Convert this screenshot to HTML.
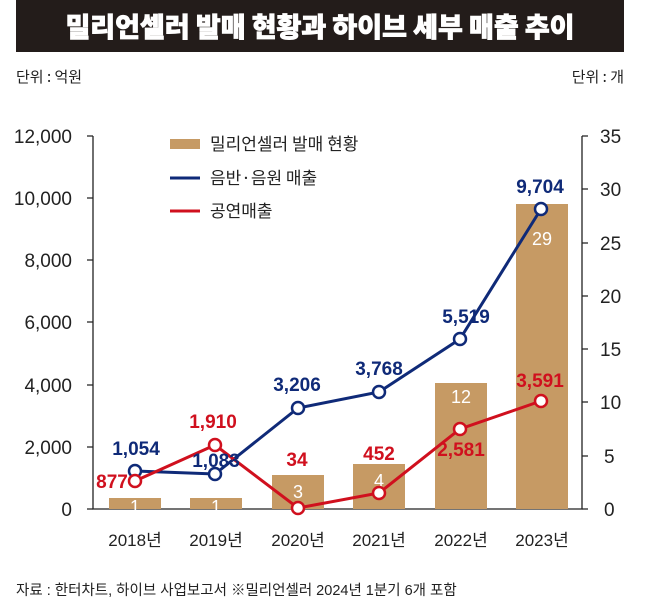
<!DOCTYPE html>
<html><head><meta charset="utf-8"><style>
body{margin:0;background:#fff;width:658px;height:611px;overflow:hidden}
svg{display:block;font-family:"Liberation Sans","Noto Sans CJK KR",sans-serif}
</style></head><body>
<svg width="658" height="611" viewBox="0 0 658 611">
<rect x="16" y="0" width="608" height="52" fill="#231c1a"/>
<text x="320" y="37" fill="#fff" font-size="27" font-weight="900" text-anchor="middle" font-family="'Noto Sans CJK KR',sans-serif" stroke="#fff" stroke-width="0.8">밀리언셀러 발매 현황과 하이브 세부 매출 추이</text>
<text x="16" y="82" font-size="15" fill="#222" font-family="'Noto Sans CJK KR',sans-serif">단위 : 억원</text>
<text x="624" y="82" font-size="15" fill="#222" text-anchor="end" font-family="'Noto Sans CJK KR',sans-serif">단위 : 개</text>
<g stroke="#222" stroke-width="1.3" fill="none">
<path d="M93 136V509H582V136"/>
<path d="M87 136H93M87 198H93M87 260H93M87 322H93M87 385H93M87 447H93M87 509H93"/>
<path d="M582 136H588M582 189H588M582 243H588M582 296H588M582 349H588M582 402H588M582 456H588M582 509H588"/>
</g>
<g font-size="19" fill="#222" text-anchor="end" font-family="'Liberation Sans Narrow','Liberation Sans',sans-serif">
<text x="72" y="143">12,000</text><text x="72" y="205">10,000</text><text x="72" y="267">8,000</text><text x="72" y="329">6,000</text><text x="72" y="392">4,000</text><text x="72" y="454">2,000</text><text x="72" y="516">0</text>
</g>
<g font-size="19" fill="#222" font-family="'Liberation Sans Narrow','Liberation Sans',sans-serif">
<text x="600" y="143">35</text><text x="600" y="196">30</text><text x="600" y="250">25</text><text x="600" y="303">20</text><text x="600" y="356">15</text><text x="600" y="409">10</text><text x="604" y="463">5</text><text x="604" y="516">0</text>
</g>
<g fill="#c69a64">
<rect x="109" y="498" width="52" height="11"/><rect x="190" y="498" width="52" height="11"/><rect x="272" y="475" width="52" height="34"/><rect x="353" y="464" width="52" height="45"/><rect x="435" y="383" width="52" height="126"/><rect x="516" y="204" width="52" height="305"/>
</g>
<g fill="#fff" font-size="18" text-anchor="middle" font-family="'Liberation Sans Narrow','Liberation Sans',sans-serif">
<text x="135" y="513">1</text><text x="216" y="513">1</text><text x="298" y="498">3</text><text x="379" y="487">4</text><text x="461" y="403">12</text><text x="542" y="245">29</text>
</g>
<polyline points="135,471 215,474 298,408 379,392 460,339 541,209" fill="none" stroke="#0f2a78" stroke-width="3"/>
<polyline points="135,481 215,445 298,508 379,493 460,429 541,401" fill="none" stroke="#d0101e" stroke-width="3"/>
<g fill="#fff" stroke="#0f2a78" stroke-width="2.5">
<circle cx="135" cy="471" r="6"/><circle cx="215" cy="474" r="6"/><circle cx="298" cy="408" r="6"/><circle cx="379" cy="392" r="6"/><circle cx="460" cy="339" r="6"/><circle cx="541" cy="209" r="6"/>
</g>
<g fill="#fff" stroke="#d0101e" stroke-width="2.5">
<circle cx="135" cy="481" r="6"/><circle cx="215" cy="445" r="6"/><circle cx="298" cy="508" r="6"/><circle cx="379" cy="493" r="6"/><circle cx="460" cy="429" r="6"/><circle cx="541" cy="401" r="6"/>
</g>
<g font-size="19" font-weight="bold" text-anchor="middle" fill="#0f2a78" font-family="'Liberation Sans Narrow','Liberation Sans',sans-serif">
<text x="136" y="455">1,054</text><text x="216" y="467">1,083</text><text x="297" y="391">3,206</text><text x="379" y="375">3,768</text><text x="466" y="323">5,519</text><text x="540" y="193">9,704</text>
</g>
<g font-size="19" font-weight="bold" text-anchor="middle" fill="#d0101e" font-family="'Liberation Sans Narrow','Liberation Sans',sans-serif">
<text x="112" y="488">877</text><text x="213" y="428">1,910</text><text x="297" y="466">34</text><text x="379" y="460">452</text><text x="461" y="456">2,581</text><text x="540" y="387">3,591</text>
</g>
<g font-size="17" fill="#222" text-anchor="middle" font-family="'Liberation Sans','Noto Sans CJK KR',sans-serif">
<text x="135" y="546">2018년</text><text x="216" y="546">2019년</text><text x="298" y="546">2020년</text><text x="379" y="546">2021년</text><text x="461" y="546">2022년</text><text x="542" y="546">2023년</text>
</g>
<rect x="170" y="139" width="30" height="10" fill="#c69a64"/>
<line x1="170" y1="178" x2="200" y2="178" stroke="#0f2a78" stroke-width="3"/>
<line x1="170" y1="211" x2="200" y2="211" stroke="#d0101e" stroke-width="3"/>
<g font-size="17" fill="#222" font-family="'Noto Sans CJK KR',sans-serif">
<text x="210" y="150">밀리언셀러 발매 현황</text><text x="210" y="184">음반·음원 매출</text><text x="210" y="217">공연매출</text>
</g>
<text x="16" y="595" font-size="14.5" fill="#222" font-family="'Liberation Sans','Noto Sans CJK KR',sans-serif">자료 : 한터차트, 하이브 사업보고서 ※밀리언셀러 2024년 1분기 6개 포함</text>
</svg>
</body></html>
